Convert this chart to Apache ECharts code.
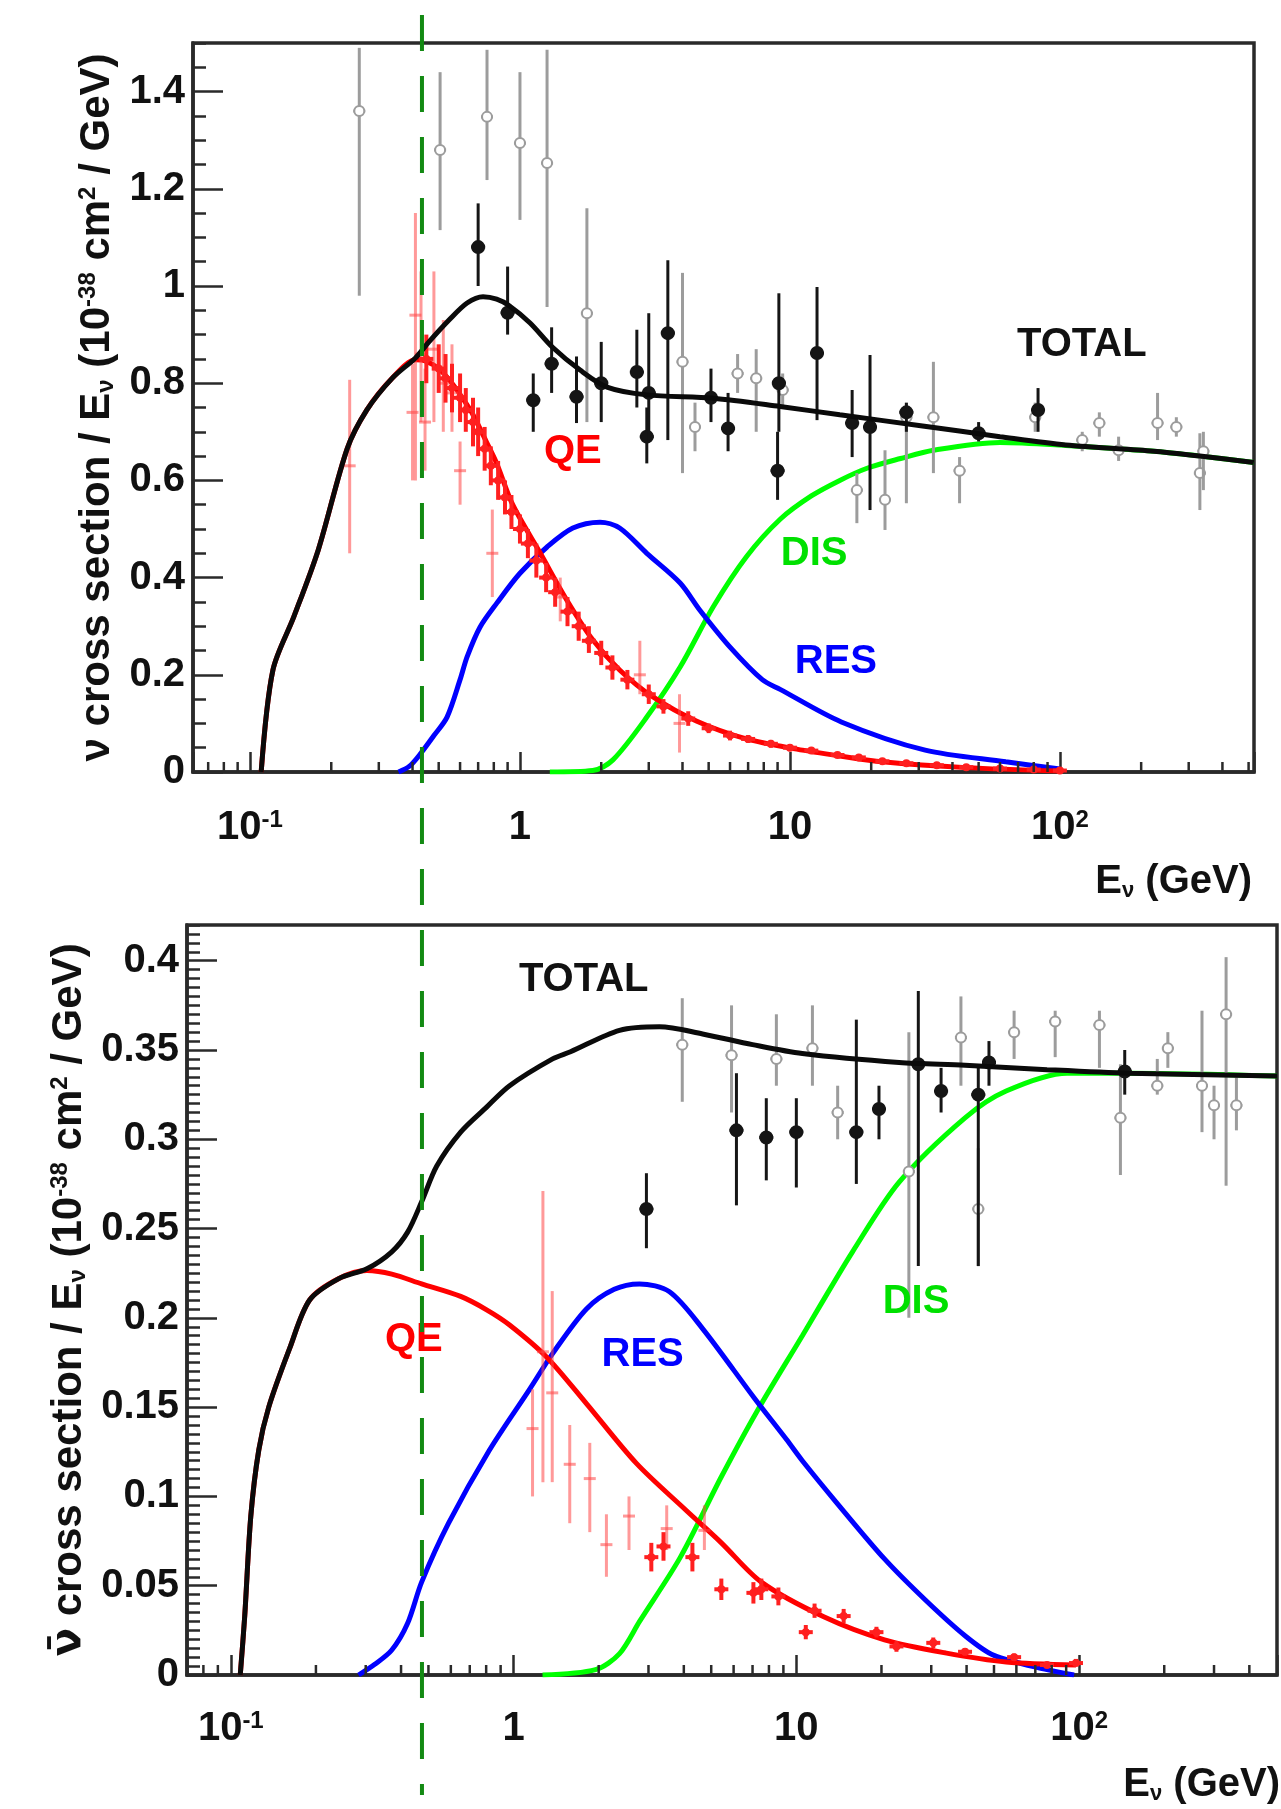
<!DOCTYPE html>
<html><head><meta charset="utf-8">
<script src="https://cdn.jsdelivr.net/npm/echarts@6/dist/echarts.min.js"></script>
<style>html,body{margin:0;padding:0;background:#fff}#c{width:1281px;height:1809px}</style>
</head><body><div id="c"></div>
<script>
// ---------- DATA (E in GeV, sigma/E in 1e-38 cm^2/GeV) ----------
// Top panel (neutrino) model curves
const topTotal = [[0.110,0],[0.1216,0.21],[0.1455,0.32],[0.179,0.457],[0.229,0.665],[0.271,0.745],[0.336,0.81],[0.41,0.852],[0.46,0.885],[0.546,0.93],[0.637,0.965],[0.73,0.978],[0.82,0.973],[0.91,0.96],[1.09,0.924],[1.32,0.874],[1.67,0.827],[2.1,0.792],[2.95,0.776],[5.2,0.769],[9.2,0.752],[15.3,0.735],[31,0.712],[60,0.69],[105,0.673],[223,0.66],[330,0.65],[523,0.637]];
const topQE = [[0.110,0],[0.1216,0.21],[0.1455,0.32],[0.179,0.457],[0.229,0.665],[0.271,0.745],[0.336,0.81],[0.41,0.848],[0.45,0.845],[0.50,0.83],[0.56,0.80],[0.62,0.765],[0.67,0.735],[0.75,0.68],[0.82,0.635],[0.94,0.55],[1.19,0.45],[1.49,0.354],[1.86,0.272],[2.34,0.21],[3.1,0.155],[4.5,0.105],[6.9,0.068],[10.6,0.047],[15.3,0.033],[22,0.021],[45,0.009],[100,0.002]];
const topRES = [[0.355,0],[0.39,0.012],[0.43,0.039],[0.48,0.075],[0.537,0.113],[0.60,0.19],[0.637,0.237],[0.711,0.298],[0.822,0.348],[1.0,0.409],[1.26,0.463],[1.57,0.502],[1.98,0.514],[2.34,0.502],[2.95,0.45],[3.92,0.389],[4.64,0.333],[6.0,0.257],[7.9,0.19],[9.2,0.17],[15.5,0.103],[31.7,0.045],[63,0.021],[100,0.006]];
const topDIS = [[1.29,0],[1.86,0.003],[2.21,0.025],[2.95,0.113],[3.92,0.216],[5.2,0.34],[6.9,0.443],[9.2,0.52],[12,0.568],[15.3,0.60],[19.3,0.625],[25.7,0.645],[34,0.662],[60,0.678],[105,0.672],[223,0.66],[330,0.65],[523,0.637]];
// Top panel measurements: [E, value, low, high]
const topBlack = [[0.70,1.08,1.00,1.17],[0.90,0.945,0.90,1.04],[1.12,0.765,0.70,0.82],[1.31,0.84,0.78,0.915],[1.62,0.772,0.718,0.855],[2.0,0.80,0.72,0.885],[2.71,0.823,0.75,0.91],[2.95,0.69,0.635,0.75],[3.0,0.78,0.683,0.944],[3.53,0.903,0.683,1.053],[5.1,0.77,0.72,0.83],[5.9,0.707,0.66,0.78],[9.0,0.62,0.56,0.70],[9.1,0.80,0.70,0.985],[12.6,0.862,0.724,0.998],[17,0.718,0.648,0.786],[19.8,0.71,0.539,0.858],[27,0.74,0.70,0.76],[50,0.697,0.68,0.72],[83,0.745,0.70,0.79]];
const topGrey = [[0.254,1.36,0.98,1.49],[0.506,1.28,1.115,1.44],[0.755,1.348,1.218,1.486],[1.0,1.294,1.136,1.44],[1.26,1.253,0.957,1.486],[1.77,0.944,0.72,1.16],[4.0,0.844,0.615,1.027],[4.45,0.71,0.66,0.76],[6.4,0.82,0.78,0.86],[7.5,0.81,0.70,0.87],[9.4,0.786,0.75,0.82],[17.7,0.58,0.512,0.615],[22.5,0.56,0.498,0.662],[27,0.73,0.553,0.759],[34,0.73,0.615,0.844],[42.5,0.62,0.553,0.648],[81,0.73,0.70,0.76],[121,0.683,0.66,0.70],[140,0.718,0.69,0.74],[165,0.662,0.64,0.69],[230,0.718,0.683,0.78],[270,0.71,0.69,0.73],[330,0.615,0.539,0.697],[340,0.66,0.58,0.70]];
const topRedLight = [[0.234,0.63,0.45,0.807],[0.41,0.94,0.60,1.15],[0.40,0.74,0.60,0.84],[0.43,0.86,0.72,1.03],[0.445,0.72,0.62,0.83],[0.48,0.87,0.72,1.03],[0.52,0.80,0.70,0.93],[0.56,0.78,0.70,0.88],[0.60,0.62,0.55,0.68],[0.79,0.45,0.36,0.54],[1.41,0.36,0.31,0.40],[2.78,0.20,0.16,0.27],[3.9,0.10,0.04,0.16]];
const topRed = [[0.45,0.85,0.80,0.90],[0.50,0.83,0.78,0.88],[0.53,0.81,0.76,0.86],[0.56,0.79,0.74,0.84],[0.60,0.77,0.72,0.82],[0.63,0.745,0.70,0.79],[0.67,0.72,0.67,0.77],[0.70,0.70,0.65,0.75],[0.74,0.665,0.62,0.71],[0.78,0.63,0.59,0.67],[0.83,0.60,0.56,0.64],[0.88,0.565,0.53,0.60],[0.93,0.535,0.50,0.57],[1.0,0.50,0.47,0.53],[1.07,0.47,0.44,0.50],[1.15,0.435,0.40,0.47],[1.25,0.40,0.37,0.43],[1.35,0.37,0.34,0.40],[1.5,0.33,0.30,0.36],[1.65,0.30,0.27,0.33],[1.8,0.27,0.245,0.30],[2.0,0.245,0.22,0.27],[2.2,0.215,0.19,0.24],[2.5,0.19,0.17,0.21],[3.0,0.16,0.14,0.18],[3.4,0.135,0.12,0.15],[4.2,0.11,0.095,0.125],[5,0.09,0.08,0.10],[6,0.075,0.065,0.085],[7,0.068,0.06,0.076],[8.5,0.058,0.05,0.066],[10,0.05,0.043,0.057],[12,0.044,0.038,0.05],[15,0.035,0.03,0.04],[18,0.03,0.026,0.034],[22,0.022,0.018,0.026],[27,0.018,0.015,0.021],[35,0.014,0.011,0.017],[45,0.01,0.008,0.012],[60,0.007,0.005,0.009],[80,0.005,0.003,0.007],[100,0.003,0.001,0.005]];

// Bottom panel (antineutrino) model curves
const botTotal = [[0.108,0],[0.112,0.033],[0.1177,0.089],[0.1256,0.126],[0.1362,0.15],[0.1616,0.183],[0.190,0.21],[0.241,0.222],[0.303,0.2275],[0.371,0.237],[0.422,0.248],[0.473,0.265],[0.535,0.285],[0.650,0.304],[0.803,0.318],[0.968,0.330],[1.374,0.345],[1.59,0.349],[2.37,0.361],[3.28,0.363],[4.66,0.359],[7.0,0.353],[10.5,0.348],[23.1,0.343],[39.5,0.3415],[77,0.339],[150,0.337],[501,0.3354]];
const botQE = [[0.108,0],[0.112,0.033],[0.1177,0.089],[0.1256,0.126],[0.1362,0.15],[0.1616,0.183],[0.190,0.21],[0.241,0.222],[0.303,0.2265],[0.371,0.2245],[0.473,0.219],[0.650,0.212],[0.803,0.2045],[0.968,0.196],[1.31,0.178],[1.81,0.152],[2.72,0.1185],[4.09,0.092],[5.43,0.074],[7.52,0.052],[12.5,0.0326],[20.5,0.0197],[33.6,0.0124],[55.2,0.0073],[97.5,0.0056]];
const botRES = [[0.283,0],[0.323,0.006],[0.371,0.014],[0.422,0.029],[0.473,0.052],[0.589,0.085],[0.822,0.126],[1.139,0.160],[1.374,0.180],[1.81,0.205],[2.27,0.216],[2.79,0.219],[3.56,0.2146],[4.66,0.194],[7.11,0.155],[9.22,0.132],[10.5,0.120],[13.8,0.097],[20.5,0.065],[28.6,0.042],[39.5,0.022],[50,0.011],[77,0.003],[96,0]];
const botDIS = [[1.266,0],[1.95,0.003],[2.37,0.012],[2.79,0.030],[3.89,0.066],[5.43,0.111],[7.28,0.148],[10.5,0.19],[12.05,0.206],[15.8,0.237],[23.1,0.276],[39.5,0.312],[55.2,0.327],[90.7,0.337],[150,0.337],[501,0.3354]];
// Bottom panel measurements: [E, value, low, high]
const botBlack = [[2.95,0.261,0.239,0.281],[6.14,0.305,0.263,0.337],[7.83,0.301,0.277,0.323],[10.0,0.304,0.273,0.323],[16.3,0.304,0.275,0.367],[19.6,0.317,0.30,0.33],[27.0,0.342,0.229,0.383],[32.5,0.327,0.315,0.34],[44,0.325,0.229,0.342],[48,0.343,0.33,0.355],[145,0.338,0.325,0.35]];
const botGrey = [[3.95,0.353,0.321,0.379],[5.9,0.347,0.315,0.375],[8.5,0.345,0.33,0.37],[11.4,0.351,0.33,0.375],[14.0,0.315,0.30,0.33],[25,0.282,0.20,0.36],[38.2,0.357,0.33,0.38],[44,0.261,0.229,0.295],[58.9,0.36,0.345,0.372],[82.3,0.366,0.346,0.372],[118,0.364,0.34,0.372],[140,0.312,0.28,0.342],[189,0.33,0.325,0.345],[206,0.351,0.34,0.36],[272,0.33,0.304,0.372],[300,0.319,0.30,0.33],[331,0.37,0.274,0.402],[360,0.319,0.305,0.335]];
const botRedLight = [[1.167,0.138,0.10,0.16],[1.27,0.181,0.108,0.271],[1.37,0.158,0.108,0.215],[1.58,0.118,0.085,0.14],[1.86,0.11,0.08,0.13],[2.13,0.073,0.055,0.09],[2.56,0.089,0.07,0.10],[3.48,0.082,0.07,0.095],[4.73,0.081,0.07,0.095]];
const botRed = [[3.07,0.066,0.058,0.074],[3.39,0.072,0.064,0.08],[4.29,0.066,0.058,0.074],[5.43,0.048,0.042,0.054],[7.05,0.046,0.04,0.052],[7.52,0.048,0.042,0.054],[8.64,0.044,0.039,0.049],[10.8,0.024,0.02,0.028],[11.6,0.036,0.032,0.04],[14.7,0.033,0.029,0.037],[19.2,0.024,0.021,0.027],[22.6,0.016,0.013,0.019],[30.5,0.018,0.015,0.021],[39.5,0.013,0.011,0.015],[58.9,0.010,0.008,0.012],[77,0.0056,0.004,0.007],[97.5,0.0067,0.005,0.009]];

// Curve annotations [text, E, value]
const topNotes = [['TOTAL',120.5,0.879],['QE',1.57,0.658],['DIS',12.3,0.449],['RES',14.8,0.226]];
const botNotes = [['TOTAL',1.77,0.389],['QE',0.444,0.1876],['RES',2.86,0.179],['DIS',26.5,0.209]];
// Axis tick values
const xMinorTicks = [0.07,0.08,0.09,0.2,0.3,0.4,0.5,0.6,0.7,0.8,0.9,2,3,4,5,6,7,8,9,20,30,40,50,60,70,80,90,200,300,400,500];
const greenE = 0.4335;

// ---------- CHART ----------
const FONT = "'Liberation Sans', Arial, Helvetica, sans-serif";
const AX = '#2a2a2a';
const chart = echarts.init(document.getElementById('c'), null, {renderer: 'canvas'});
const xRange = [[0.0615, 523.6], [0.0700, 501]];
const yRange = [[0, 1.5, 0.2, 0.05], [0, 0.42, 0.05, 0.005]];

function xLabel(v) {
  const e = Math.log10(v);
  const r = Math.round(e);
  if (Math.abs(e - r) > 1e-6) return '';
  if (r === 0) return '1';
  if (r === 1) return '10';
  return '10{sup|' + r + '}';
}
const supStyle = {fontSize: 24, fontWeight: 'bold', fontFamily: FONT, color: '#111', verticalAlign: 'top'};

function xAxisDef(gi) {
  return {
    gridIndex: gi, type: 'log', logBase: 10, min: xRange[gi][0], max: xRange[gi][1],
    axisLine: {show: true, lineStyle: {color: AX, width: 3.5}},
    axisTick: {show: true, inside: true, length: 20, lineStyle: {color: AX, width: 2.5}},
    minorTick: {show: false}, splitLine: {show: false},
    axisLabel: {formatter: xLabel, margin: gi === 0 ? 36 : 34, fontSize: 40, fontWeight: 'bold', fontFamily: FONT, color: '#111',
      rich: {sup: supStyle}},
    name: 'E{sub|ν} (GeV)', nameLocation: 'end', nameGap: gi === 0 ? -2 : 3,
    nameTextStyle: {fontSize: 40, fontWeight: 'bold', fontFamily: FONT, color: '#111', align: 'right', verticalAlign: 'top',
      padding: [gi === 0 ? 90 : 90, 0, 0, 0],
      rich: {sub: {fontSize: 22, fontWeight: 'bold', fontFamily: FONT, color: '#111', verticalAlign: 'bottom'}}}
  };
}
const titleRich = {
  n: {fontSize: 42, fontWeight: 'bold', fontFamily: FONT, color: '#111'},
  nb: {fontSize: 42, fontWeight: 'bold', fontFamily: "'DejaVu Sans', sans-serif", color: '#111'},
  sup: {fontSize: 24, fontWeight: 'bold', fontFamily: FONT, color: '#111', verticalAlign: 'top'},
  sub: {fontSize: 24, fontWeight: 'bold', fontFamily: FONT, color: '#111', verticalAlign: 'bottom'}
};
function yMajor(gi, title) {
  const r = yRange[gi];
  return {
    gridIndex: gi, type: 'value', position: 'left', min: r[0], max: r[1], interval: r[2],
    axisLine: {show: true, lineStyle: {color: AX, width: 3.5}},
    axisTick: {show: true, inside: true, length: 30, lineStyle: {color: AX, width: 2.5}},
    splitLine: {show: false},
    axisLabel: {margin: 8, fontSize: 40, fontWeight: 'bold', fontFamily: FONT, color: '#111', showMaxLabel: false},
    name: title, nameLocation: 'middle', nameRotate: 90, nameGap: 64,
    nameTextStyle: {fontSize: 42, fontWeight: 'bold', fontFamily: FONT, color: '#111', rich: titleRich}
  };
}
function yMinor(gi) {
  const r = yRange[gi];
  return {
    gridIndex: gi, type: 'value', position: 'left', offset: 0, min: r[0], max: r[1], interval: r[3],
    axisLine: {show: false}, splitLine: {show: false}, axisLabel: {show: false},
    axisTick: {show: true, inside: true, length: 13, lineStyle: {color: AX, width: 2.5}}
  };
}

function curve(data, color, gi, z) {
  return {type: 'line', data: data, xAxisIndex: gi, yAxisIndex: gi * 2, symbol: 'none', smooth: 0.3,
    lineStyle: {color: color, width: 5}, z: z, silent: true, animation: false};
}
function points(data, gi, st, z) {
  return {
    type: 'custom', xAxisIndex: gi, yAxisIndex: gi * 2, data: data, z: z, silent: true, animation: false,
    encode: {x: 0, y: 1},
    renderItem: function (params, api) {
      const x = api.value(0), y = api.value(1);
      const c = api.coord([x, y]), cl = api.coord([x, api.value(2)]), ch = api.coord([x, api.value(3)]);
      const ls = {stroke: st.stroke, lineWidth: st.lw};
      const kids = [
        {type: 'line', shape: {x1: c[0], y1: cl[1], x2: c[0], y2: ch[1]}, style: ls},
        {type: 'line', shape: {x1: c[0] - st.w, y1: c[1], x2: c[0] + st.w, y2: c[1]}, style: ls}
      ];
      if (st.r) kids.push({type: 'circle', shape: {cx: c[0], cy: c[1], r: st.r},
        style: {fill: st.fill, stroke: st.stroke, lineWidth: 2}});
      return {type: 'group', children: kids};
    }
  };
}
function minorTicks(gi) {
  const d = xMinorTicks.filter(v => v > xRange[gi][0] * 1.03 && v < xRange[gi][1] * 0.97).map(v => [v, 0]);
  return {
    type: 'custom', xAxisIndex: gi, yAxisIndex: gi * 2, data: d, z: 6, silent: true, animation: false,
    encode: {x: 0, y: 1},
    renderItem: function (params, api) {
      const c = api.coord([api.value(0), 0]);
      return {type: 'line', shape: {x1: c[0], y1: c[1], x2: c[0], y2: c[1] - 10}, style: {stroke: AX, lineWidth: 2.5}};
    }
  };
}
function notes(list, gi, colors) {
  return {
    type: 'scatter', xAxisIndex: gi, yAxisIndex: gi * 2, symbolSize: 1, z: 8, silent: true, animation: false,
    itemStyle: {opacity: 0},
    data: list.map((n, i) => ({name: n[0], value: [n[1], n[2]],
      label: {show: true, position: 'inside', formatter: '{b}', fontSize: 40, fontWeight: 'bold', fontFamily: FONT,
        color: colors[i], opacity: 1, textBorderWidth: 0}}))
  };
}

const BLACK = {stroke: '#151515', lw: 3, w: 7, r: 6, fill: '#151515'};
const GREY = {stroke: '#9c9c9c', lw: 3, w: 6, r: 5, fill: '#ffffff'};
const LRED = {stroke: 'rgba(255,70,70,0.55)', lw: 3, w: 6, r: 0};
const RED = {stroke: '#ff2020', lw: 4, w: 7, r: 3, fill: '#ff2020'};
const noteColors = {TOTAL: '#111111', QE: '#ff0000', DIS: '#00e000', RES: '#0000ff'};

const option = {
  animation: false,
  backgroundColor: '#fff',
  grid: [
    {left: 193, top: 43, width: 1061, height: 729, show: true, borderColor: AX, borderWidth: 3.5, backgroundColor: 'transparent'},
    {left: 187, top: 925, width: 1091, height: 750, show: true, borderColor: AX, borderWidth: 3.5, backgroundColor: 'transparent'}
  ],
  xAxis: [xAxisDef(0), xAxisDef(1)],
  yAxis: [
    yMajor(0, '{n|ν cross section / E}{sub|ν}{n| (10}{sup|-38}{n| cm}{sup|2}{n| / GeV)}'), yMinor(0),
    yMajor(1, '{nb|ν̄}{n| cross section / E}{sub|ν}{n| (10}{sup|-38}{n| cm}{sup|2}{n| / GeV)}'), yMinor(1)
  ],
  series: [
    curve(topDIS, '#00ff00', 0, 2), curve(topRES, '#0000ff', 0, 2), curve(topQE, '#ff0000', 0, 2),
    points(topRedLight, 0, LRED, 3), points(topRed, 0, RED, 3), points(topGrey, 0, GREY, 3), points(topBlack, 0, BLACK, 4),
    curve(topTotal, '#0a0a0a', 0, 4),
    curve(botDIS, '#00ff00', 1, 2), curve(botRES, '#0000ff', 1, 2), curve(botQE, '#ff0000', 1, 2),
    points(botRedLight, 1, LRED, 3), points(botRed, 1, RED, 3), points(botGrey, 1, GREY, 3), points(botBlack, 1, BLACK, 4),
    curve(botTotal, '#0a0a0a', 1, 4),
    minorTicks(0), minorTicks(1),
    notes(topNotes, 0, topNotes.map(n => noteColors[n[0]])),
    notes(botNotes, 1, botNotes.map(n => noteColors[n[0]]))
  ]
};
chart.setOption(option);

// vertical dashed threshold line spanning both panels, placed through the top panel's x scale
const gx = chart.convertToPixel({xAxisIndex: 0}, greenE);
const yTop = chart.convertToPixel({yAxisIndex: 0}, 1.5) - 28;
const yBot = chart.convertToPixel({yAxisIndex: 2}, 0) + 120;
chart.setOption({graphic: [{type: 'line', z: 100, silent: true,
  shape: {x1: gx, y1: yTop, x2: gx, y2: yBot},
  style: {stroke: '#138a13', lineWidth: 4, lineDash: [36, 25]}}]});
</script></body></html>
